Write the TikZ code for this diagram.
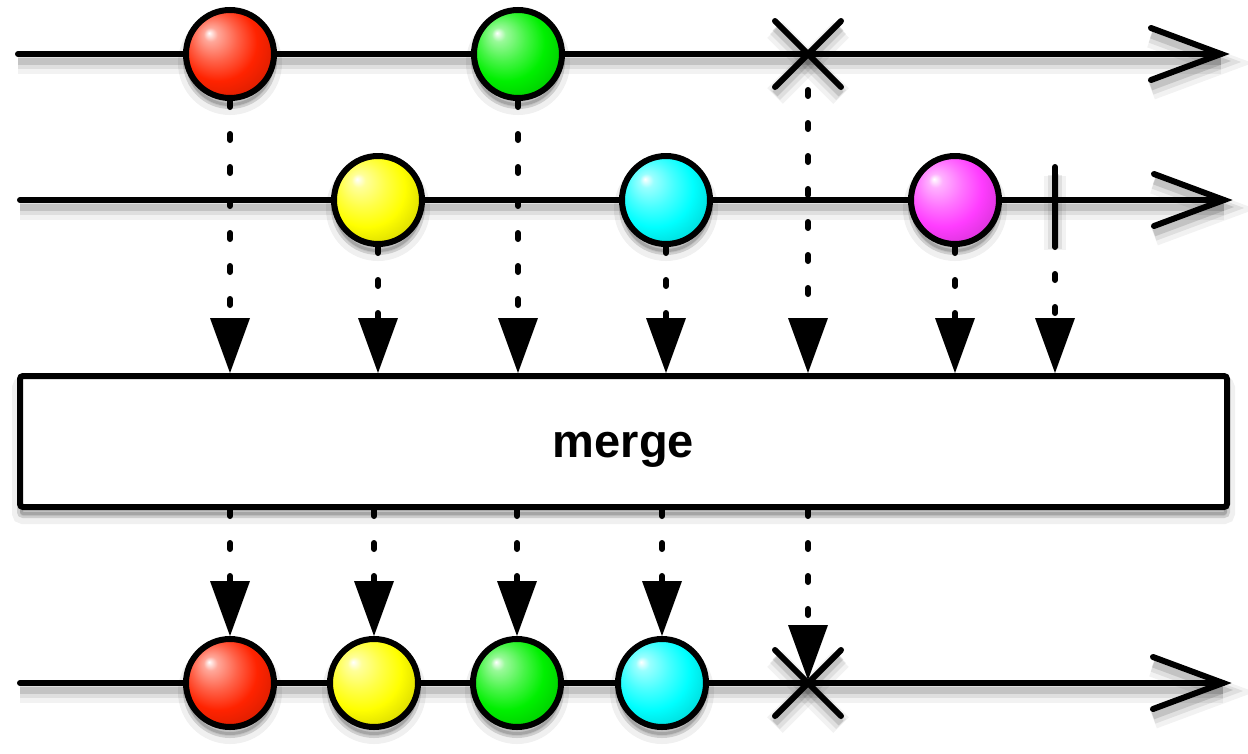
\documentclass[tikz,border=0pt]{standalone}
\usepackage{fontspec}
\setmainfont{Liberation Sans}
\usetikzlibrary{arrows.meta,calc}
\definecolor{cRed}{RGB}{255,35,0}
\definecolor{cGreen}{RGB}{0,240,0}
\definecolor{cYellow}{RGB}{255,255,0}
\definecolor{cCyan}{RGB}{0,255,255}
\definecolor{cMag}{RGB}{255,60,255}
\newcommand\mkballshade[1]{\pgfdeclareradialshading{sh#1}{\pgfpoint{-12bp}{12bp}}{color(0bp)=(white);color(4bp)=(#1!40!white);color(13bp)=(#1!72!white);color(22bp)=(#1);color(32bp)=(#1!85!black);color(42bp)=(#1!55!black);color(50bp)=(#1!55!black)}}
\mkballshade{cRed}
\mkballshade{cGreen}
\mkballshade{cYellow}
\mkballshade{cCyan}
\mkballshade{cMag}
\tikzset{
  tl/.style={line width=6pt},
  shl/.style={
    preaction={draw=black,opacity=0.05,line width=22pt,transform canvas={yshift=-9pt}},
    preaction={draw=black,opacity=0.08,line width=14pt,transform canvas={yshift=-8pt}},
    preaction={draw=black,opacity=0.12,line width=7pt,transform canvas={yshift=-7pt}}},
  marble/.style={circle, draw=black, line width=6pt, minimum size=88pt, inner sep=0pt, shading=sh#1,
    preaction={fill=black,draw=black,line width=16pt,opacity=0.06,transform canvas={yshift=-9pt}},
    preaction={fill=black,draw=black,line width=6pt,opacity=0.14,transform canvas={yshift=-8pt}}},
  conn/.style={line width=6pt, line cap=round, dash pattern=on 6pt off 27pt,
    -{Triangle[length=55pt,width=40pt,line width=0pt]}},
  opbox/.style={draw=black, fill=white, line width=6pt, rounded corners=3pt,
    minimum width=1207pt, minimum height=131pt, inner sep=0pt,
    font=\fontsize{47}{50}\selectfont\bfseries,
    preaction={fill=black,draw=black,line width=16pt,opacity=0.06,transform canvas={yshift=-9pt}},
    preaction={fill=black,draw=black,line width=6pt,opacity=0.14,transform canvas={yshift=-8pt}}},
}
\begin{document}
\begin{tikzpicture}[x=1pt,y=-1pt]
\fill[white] (0,0) rectangle (1248,753);
\useasboundingbox (0,0) rectangle (1248,753);
% coordinates of the timelines
\coordinate (s1) at (18,54);  \coordinate (e1) at (1221,54);
\coordinate (s2) at (20,200); \coordinate (e2) at (1224,200);
\coordinate (s3) at (20,683); \coordinate (e3) at (1223,683);
\coordinate (x1) at (808,54);
\coordinate (x1b) at (808,90);
\coordinate (bt) at (1055,167);
\coordinate (bb) at (1055,241);
\coordinate (x2) at (808,683);
% timelines
\draw[tl,shl,line cap=round] (s1) -- (e1);
\draw[tl,shl,line cap=round,line join=miter] ($(e1)+(-70,-26)$) -- (e1) -- ($(e1)+(-70,26)$);
\draw[tl,shl,line cap=round] (s2) -- (e2);
\draw[tl,shl,line cap=round,line join=miter] ($(e2)+(-70,-26)$) -- (e2) -- ($(e2)+(-70,26)$);
\draw[tl,shl,line cap=round] (s3) -- (e3);
\draw[tl,shl,line cap=round,line join=miter] ($(e3)+(-70,-26)$) -- (e3) -- ($(e3)+(-70,26)$);
% completion / error marks
\draw[tl,shl,line cap=round] ($(x1)+(-33,-33)$) -- ($(x1)+(33,33)$);
\draw[tl,shl,line cap=round] ($(x1)+(-33,33)$) -- ($(x1)+(33,-33)$);
\draw[tl,shl,line cap=round] (bt) -- (bb);
\draw[tl,shl,line cap=round] ($(x2)+(-33,-33)$) -- ($(x2)+(33,33)$);
\draw[tl,shl,line cap=round] ($(x2)+(-33,33)$) -- ($(x2)+(33,-33)$);
% operator box
\node[opbox] (m) at (623.5,441.5) {\raisebox{-8pt}[\height][\depth]{merge}};
% marbles
\node[marble=cRed]    (a1) at (230,54) {};
\node[marble=cGreen]  (a2) at (518,54) {};
\node[marble=cYellow] (b1) at (378,200) {};
\node[marble=cCyan]   (b2) at (666,200) {};
\node[marble=cMag]    (b3) at (955,200) {};
\node[marble=cRed]    (o1) at (230,683) {};
\node[marble=cYellow] (o2) at (374,683) {};
\node[marble=cGreen]  (o3) at (517,683) {};
\node[marble=cCyan]   (o4) at (662,683) {};
% connectors into the operator
\draw[conn] (a1.south) -- (a1.south |- m.north);
\draw[conn] (b1.south) -- (b1.south |- m.north);
\draw[conn] (a2.south) -- (a2.south |- m.north);
\draw[conn] (b2.south) -- (b2.south |- m.north);
\draw[conn] (x1b) -- (x1b |- m.north);
\draw[conn] (b3.south) -- (b3.south |- m.north);
\draw[conn] (bb) -- (bb |- m.north);
% connectors out of the operator
\draw[conn] (o1.north |- m.south) -- (o1.north);
\draw[conn] (o2.north |- m.south) -- (o2.north);
\draw[conn] (o3.north |- m.south) -- (o3.north);
\draw[conn] (o4.north |- m.south) -- (o4.north);
\draw[conn] (x2 |- m.south) -- ($(x2)+(0,-3)$);
\end{tikzpicture}
\end{document}
